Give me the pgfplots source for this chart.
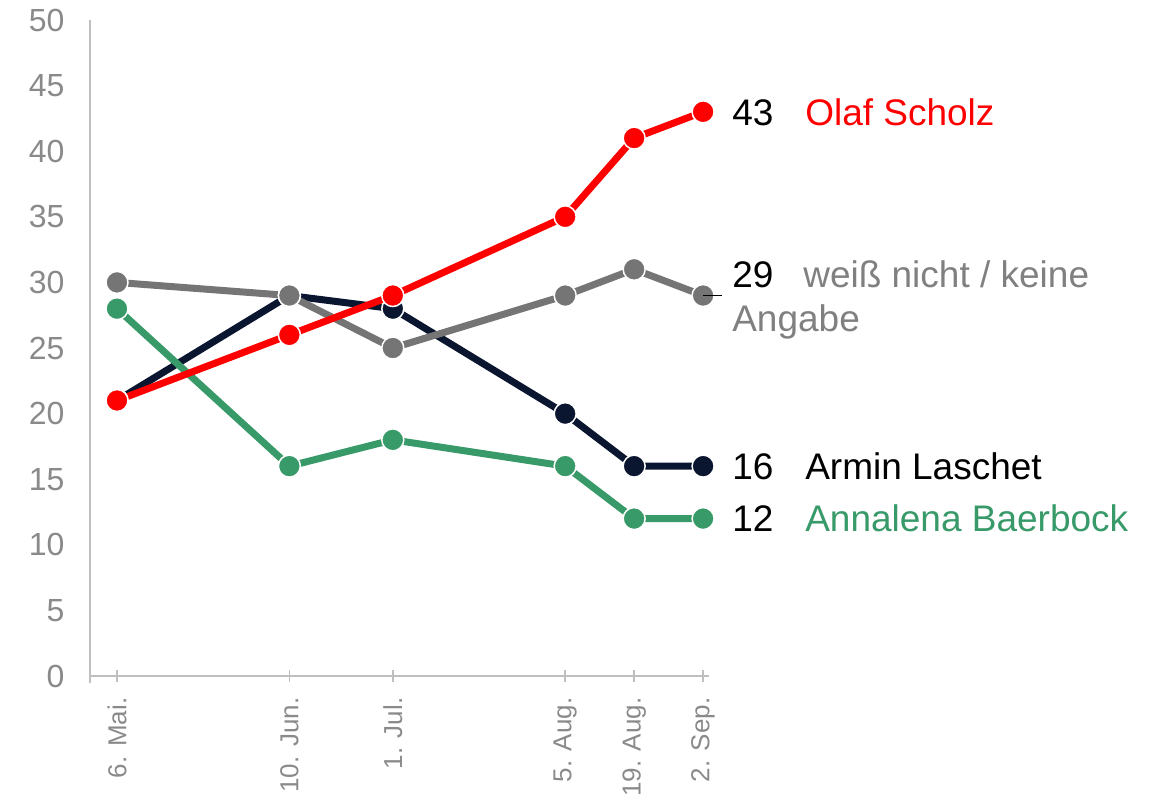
\documentclass[border=0pt]{standalone}
\usepackage{fontspec}
\setmainfont{Liberation Sans}
\usepackage{pgfplots}
\pgfplotsset{compat=1.18}
\definecolor{cred}{HTML}{FF0000}
\definecolor{cnavy}{HTML}{0A1530}
\definecolor{cgreen}{HTML}{389A69}
\definecolor{cgray}{HTML}{757575}
\definecolor{ctext}{HTML}{8A8A8A}
\definecolor{clab}{HTML}{808080}
\definecolor{caxis}{HTML}{BFBFBF}
\begin{document}
\begin{tikzpicture}[x=1pt,y=1pt]
\useasboundingbox (0,0) rectangle (1158,796);
\begin{axis}[
 at={(90pt,113.4pt)}, anchor=south west,
 scale only axis, width=619pt, height=662.6pt,
 xmin=-5.48, xmax=120.2, ymin=-0.5, ymax=50,
 axis x line=middle, axis y line=left,
 axis line style={-, caxis, line width=1.5pt},
 xtick={0,35,56,91,105,119},
 xticklabels={6. Mai., 10. Jun., 1. Jul., 5. Aug., 19. Aug., 2. Sep.},
 ytick={0,5,...,50},
 x tick label style={rotate=90, anchor=east, xshift=-12pt, font=\fontsize{26}{31}\selectfont, text=ctext},
 y tick label style={xshift=-16pt, font=\fontsize{32}{38}\selectfont, text=ctext},
 /pgf/number format/assume math mode=true,
 major tick length=12pt, tick align=center,
 xtick style={caxis, line width=1.5pt},
 ytick style={draw=none},
 clip=false,
 every axis plot/.append style={line width=7pt, mark=*, mark size=11pt},
]
\addplot[color=cnavy, mark options={draw=white, fill=cnavy, line width=1.5pt}] coordinates {(0,21) (35,29) (56,28) (91,20) (105,16) (119,16)};
\addplot[color=cgreen, mark options={draw=white, fill=cgreen, line width=1.5pt}] coordinates {(0,28) (35,16) (56,18) (91,16) (105,12) (119,12)};
\addplot[color=cgray, mark options={draw=white, fill=cgray, line width=1.5pt}] coordinates {(0,30) (35,29) (56,25) (91,29) (105,31) (119,29)};
\addplot[color=cred, mark options={draw=white, fill=cred, line width=1.5pt}] coordinates {(0,21) (35,26) (56,29) (91,35) (105,41) (119,43)};
\coordinate (p29) at (axis cs:119,29);
\node[anchor=west, inner sep=0pt, xshift=29pt, font=\fontsize{37}{44}\selectfont] at (axis cs:119,43) {\makebox[73pt][l]{43}\textcolor{cred}{Olaf Scholz}};
\node[anchor=west, inner sep=0pt, xshift=29pt, font=\fontsize{37}{44}\selectfont] at (axis cs:119,16) {\makebox[73pt][l]{16}\textcolor{black}{Armin Laschet}};
\node[anchor=west, inner sep=0pt, xshift=29pt, font=\fontsize{37}{44}\selectfont] at (axis cs:119,12) {\makebox[73pt][l]{12}\textcolor{cgreen}{Annalena Baerbock}};
\node[anchor=west, align=left, inner sep=0pt, xshift=29pt, yshift=-4pt, font=\fontsize{37}{44}\selectfont] at (axis cs:119,29) {\makebox[71pt][l]{29}\textcolor{clab}{weiß nicht / keine}\\\textcolor{clab}{Angabe}};
\end{axis}
\draw[black, line width=1pt] (p29) -- ++(19pt,0pt);
\end{tikzpicture}
\end{document}
